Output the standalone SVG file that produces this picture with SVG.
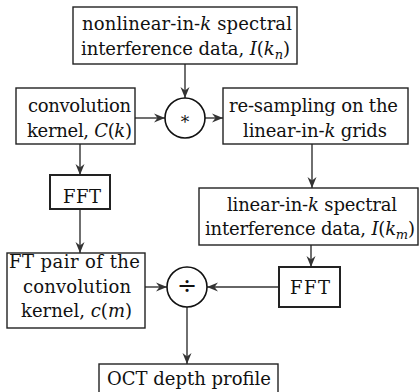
<svg xmlns="http://www.w3.org/2000/svg" width="420" height="392" viewBox="0 0 420 392">
<defs>
<style>
.box{fill:#fff;stroke:#222;stroke-width:1.4}
.bbox{fill:#fff;stroke:#222;stroke-width:2}
.t{font-family:'DejaVu Serif',serif;font-size:18px;fill:#111}
.i{font-style:italic}
.sub{font-size:13px;font-style:italic}
.c{stroke:#333;stroke-width:1.4;fill:none;marker-end:url(#ah)}
</style>
<marker id="ah" markerUnits="userSpaceOnUse" markerWidth="12" markerHeight="10" refX="11" refY="5" orient="auto">
<path d="M0,0.5 L11,5 L0,9.5 L3.5,5 Z" fill="#333"/>
</marker>
</defs>
<rect width="420" height="392" fill="#fff"/>
<g id="connectors">
<line class="c" x1="185" y1="64" x2="185" y2="98"/>
<line class="c" x1="135" y1="118" x2="165" y2="118"/>
<line class="c" x1="205" y1="118" x2="223" y2="118"/>
<line class="c" x1="80" y1="144" x2="80" y2="175"/>
<line class="c" x1="80" y1="209" x2="80" y2="253"/>
<line class="c" x1="312" y1="144" x2="312" y2="188"/>
<line class="c" x1="311" y1="245" x2="311" y2="267"/>
<line class="c" x1="145" y1="287" x2="167" y2="287"/>
<line class="c" x1="279" y1="287" x2="207" y2="287"/>
<line class="c" x1="187" y1="307" x2="187" y2="364"/>
</g>
<g id="nonlinear">
<rect class="box" x="73" y="7" width="224" height="57"/>
<text class="t" x="82" y="30" textLength="210" lengthAdjust="spacing">nonlinear-in-<tspan class="i">k</tspan> spectral</text>
<text class="t" x="81" y="55" textLength="209" lengthAdjust="spacing">interference data, <tspan class="i">I</tspan>(<tspan class="i">k</tspan><tspan class="sub" dy="4">n</tspan><tspan dy="-4">)</tspan></text>
</g>
<g id="kernel">
<rect class="box" x="16" y="88" width="119" height="56"/>
<text class="t" x="28" y="112" textLength="103" lengthAdjust="spacing">convolution</text>
<text class="t" x="27" y="137" textLength="105" lengthAdjust="spacing">kernel, <tspan class="i">C</tspan>(<tspan class="i">k</tspan>)</text>
</g>
<g id="conv">
<circle cx="185" cy="118" r="20" fill="#fff" stroke="#111" stroke-width="1.6"/>
<text class="t" x="185" y="128" text-anchor="middle" style="font-size:17px">*</text>
</g>
<g id="resample">
<rect class="box" x="223" y="88" width="185" height="56"/>
<text class="t" x="229" y="112" textLength="169" lengthAdjust="spacing">re-sampling on the</text>
<text class="t" x="243" y="137" textLength="144" lengthAdjust="spacing">linear-in-<tspan class="i">k</tspan> grids</text>
</g>
<g id="fft1">
<rect class="bbox" x="50" y="175" width="60" height="34"/>
<text class="t" x="63" y="203" textLength="38" lengthAdjust="spacing">FFT</text>
</g>
<g id="linear">
<rect class="box" x="199" y="188" width="219" height="57"/>
<text class="t" x="227" y="211" textLength="170" lengthAdjust="spacing">linear-in-<tspan class="i">k</tspan> spectral</text>
<text class="t" x="205" y="235" textLength="210" lengthAdjust="spacing">interference data, <tspan class="i">I</tspan>(<tspan class="i">k</tspan><tspan class="sub" dy="4">m</tspan><tspan dy="-4">)</tspan></text>
</g>
<g id="ftpair">
<rect class="box" x="7" y="253" width="138" height="75"/>
<text class="t" x="9" y="268" textLength="131" lengthAdjust="spacing">FT pair of the</text>
<text class="t" x="23" y="293" textLength="108" lengthAdjust="spacing">convolution</text>
<text class="t" x="21" y="317" textLength="111" lengthAdjust="spacing">kernel, <tspan class="i">c</tspan>(<tspan class="i">m</tspan>)</text>
</g>
<g id="divide">
<circle cx="187" cy="287" r="20" fill="#fff" stroke="#111" stroke-width="1.6"/>
<text class="t" x="187" y="294" text-anchor="middle" style="font-size:24px">÷</text>
</g>
<g id="fft2">
<rect class="bbox" x="279" y="267" width="61" height="40"/>
<text class="t" x="290" y="294" textLength="40" lengthAdjust="spacing">FFT</text>
</g>
<g id="oct">
<rect class="box" x="99" y="364" width="179" height="40"/>
<text class="t" x="107" y="385" textLength="164" lengthAdjust="spacing">OCT depth profile</text>
</g>
</svg>
